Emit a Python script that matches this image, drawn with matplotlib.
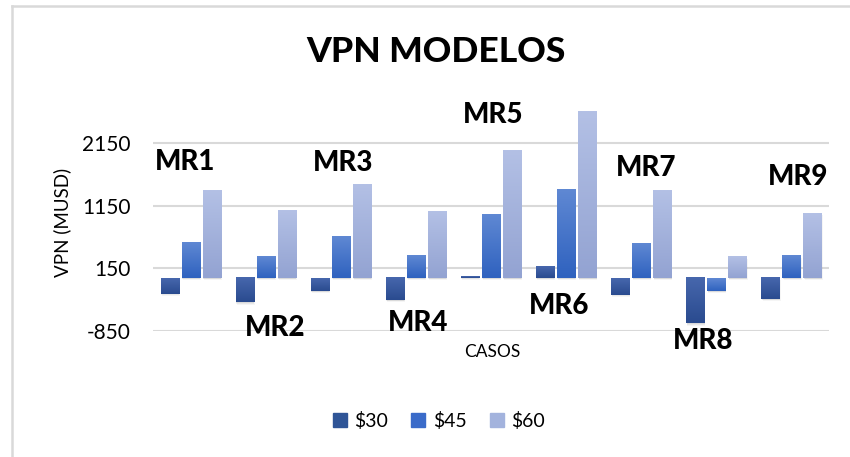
import numpy as np
import matplotlib
matplotlib.use("Agg")
import matplotlib.pyplot as plt
from matplotlib.colors import LinearSegmentedColormap
from matplotlib.lines import Line2D

# ---- data ----
categories = ["MR1", "MR2", "MR3", "MR4", "MR5", "MR6", "MR7", "MR8", "MR9"]
series_names = ["$30", "$45", "$60"]
vpn_30 = [-250, -390, -205, -350, 20, 190, -265, -725, -335]
vpn_45 = [570, 340, 655, 355, 1015, 1410, 555, -205, 350]
vpn_60 = [1395, 1080, 1490, 1050, 2030, 2650, 1395, 335, 1030]
yticks = [-850, 150, 1150, 2150]

# ---- style ----
W, H, DPI = 850, 457, 100
font = "Lato"
plt.rcParams["font.family"] = [font, "DejaVu Sans"]
grad = {
    "$30": ("#4767ad", "#2a4b8f"),
    "$45": ("#5f88d3", "#2f62bf"),
    "$60": ("#b3c0e5", "#93a3d2"),
}
solid = {"$30": "#2f5597", "$45": "#3a6bc9", "$60": "#a3b3dd"}

fig = plt.figure(figsize=(W / DPI, H / DPI), dpi=DPI)
px = lambda x: x / W
py = lambda y: 1 - y / H

ax_left, ax_right = 153, 829
ax_top, ax_bot = 105, 331.3
ax = fig.add_axes([px(ax_left), py(ax_bot), px(ax_right - ax_left), (ax_bot - ax_top) / H])

x = np.arange(len(categories))
width = 0.24
step = 0.28
all_series = [vpn_30, vpn_45, vpn_60]
for i, (name, vals) in enumerate(zip(series_names, all_series)):
    bars = ax.bar(x + (i - 1) * step, vals, width=width, color=solid[name], zorder=3, label=name)
    cmap = LinearSegmentedColormap.from_list(name, [grad[name][1], grad[name][0]])
    for b in bars:
        x0, y0 = b.get_x(), b.get_y()
        w, h = b.get_width(), b.get_height()
        ylo, yhi = min(y0, y0 + h), max(y0, y0 + h)
        # soft shadow
        for k, a in enumerate([0.06, 0.05, 0.04]):
            d = 12 * (k + 1)
            ax.add_patch(plt.Rectangle((x0 + 0.005 * (k + 1), ylo - d), w, yhi - ylo,
                                       color="#000000", alpha=a, zorder=2, lw=0))
        g = np.linspace(0, 1, 64).reshape(-1, 1)
        ax.imshow(g, extent=(x0, x0 + w, ylo, yhi), origin="lower", cmap=cmap,
                  aspect="auto", zorder=4, interpolation="bilinear")

ax.set_xlim(-0.5, len(categories) - 0.5)
ax.set_ylim(-850, 2750)
ax.set_yticks(yticks)
ax.set_yticklabels([str(t) for t in yticks], fontsize=15)
ax.set_xticks([])
ax.tick_params(axis="y", length=0, pad=16)
for s in ax.spines.values():
    s.set_visible(False)
ax.yaxis.grid(True, color="#d9d9d9", lw=1.5, zorder=0)
ax.set_axisbelow(True)

# axis labels
fig.text(px(62), py(222), "VPN (MUSD)", rotation=90, ha="center", va="center", fontsize=13.5)
fig.text(px(492), py(352), "CASOS", ha="center", va="center", fontsize=12.5)

# title
fig.text(px(436), py(52), "VPN MODELOS", ha="center", va="center", fontsize=25.5,
         fontweight="black")

# case labels
label_pos = [(185.5, 162.5), (275.5, 327.5), (343, 163), (418, 323), (493, 115),
             (559, 306), (646, 168), (703, 341), (798, 177)]
for name, (lx, ly) in zip(categories, label_pos):
    fig.text(px(lx), py(ly), name, ha="center", va="center", fontsize=20, fontweight="black")

# legend
handles = [plt.Rectangle((0, 0), 1, 1, color=solid[n]) for n in series_names]
fig.legend(handles, series_names, loc="center", bbox_to_anchor=(px(439), py(421)), ncol=3,
           frameon=False, fontsize=14, handlelength=0.7, handleheight=0.7,
           handletextpad=0.4, columnspacing=1.2)

# chart frame (top and left only visible)
fig.add_artist(Line2D([px(11.5), px(851)], [py(6), py(6)], color="#d9d9d9", lw=1.8))
fig.add_artist(Line2D([px(11.5), px(11.5)], [py(6), py(458)], color="#d9d9d9", lw=1.8))

fig.savefig("out.png", dpi=DPI)
